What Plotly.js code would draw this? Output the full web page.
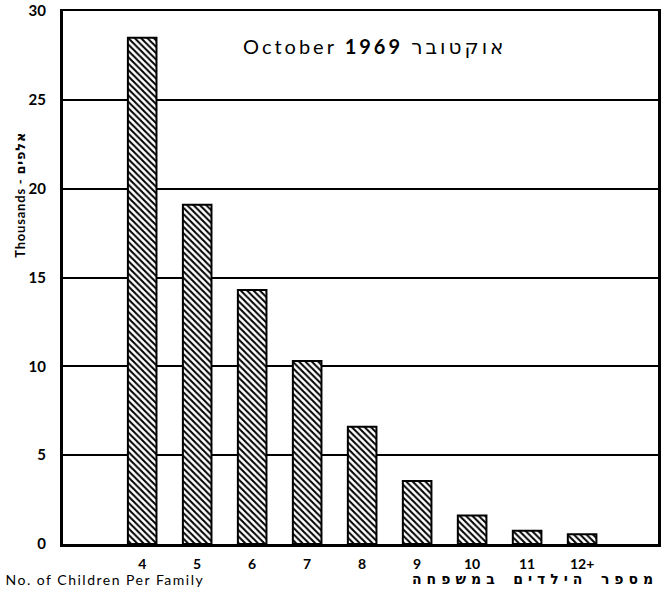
<!DOCTYPE html>
<html>
<head>
<meta charset="utf-8">
<script src="https://cdn.plot.ly/plotly-3.0.1.min.js"></script>
<style>
  html, body { margin: 0; padding: 0; background: #fff; }
  #chart { width: 672px; height: 593px; }
  .annotation[data-index="0"] text { letter-spacing: 3px; }
  .annotation[data-index="1"] text { letter-spacing: 0.8px; }
  .annotation[data-index="2"] text { letter-spacing: 1.5px; }
  .annotation[data-index="3"] text { letter-spacing: 5px; }
</style>
</head>
<body>
<div id="chart"></div>
<script>
const categories = ["4", "5", "6", "7", "8", "9", "10", "11", "12+"];
const thousands = [28.5, 19.1, 14.3, 10.3, 6.6, 3.55, 1.6, 0.75, 0.55];
const yTicks = [0, 5, 10, 15, 20, 25, 30];

const trace = {
  type: "bar",
  x: categories,
  y: thousands,
  width: 0.52,
  marker: {
    color: "white",
    line: { color: "black", width: 2 },
    pattern: { shape: "\\", fgcolor: "black", bgcolor: "white", size: 4.5, solidity: 0.45 }
  },
  hoverinfo: "skip"
};

const font = "Lato, 'DejaVu Sans', 'Noto Sans', sans-serif";

const layout = {
  width: 672, height: 593,
  margin: { l: 63, r: 14, t: 11, b: 49 },
  paper_bgcolor: "white", plot_bgcolor: "white",
  showlegend: false,
  font: { family: font, color: "black" },
  xaxis: {
    type: "category",
    range: [-1.44, 9.38],
    showgrid: false,
    showline: true, linecolor: "black", linewidth: 2.5,
    mirror: true,
    ticks: "", ticklabelstandoff: 6,
    tickfont: { size: 14, family: font, weight: "bold" },
    fixedrange: true
  },
  yaxis: {
    range: [0, 30],
    tickvals: yTicks,
    showgrid: true, gridcolor: "black", gridwidth: 2,
    zeroline: false,
    showline: true, linecolor: "black", linewidth: 3,
    mirror: true,
    ticks: "", ticklabelstandoff: 11,
    tickfont: { size: 15, family: font, weight: "bold" },
    fixedrange: true
  },
  annotations: [
    {
      xref: "paper", yref: "paper", x: 0.523, y: 0.935,
      xanchor: "center", yanchor: "middle",
      text: "October <b>1969</b> אוקטובר",
      showarrow: false,
      font: { size: 20, family: font, color: "black" }
    },
    {
      xref: "paper", yref: "paper", x: -0.072, y: 0.655,
      xanchor: "center", yanchor: "middle",
      text: "<b>Thousands - אלפים</b>",
      textangle: -90,
      showarrow: false,
      font: { size: 13, family: font, color: "black" }
    },
    {
      xref: "paper", yref: "paper", x: 0.0706, y: -0.066,
      xanchor: "center", yanchor: "middle",
      text: "No. of Children Per Family",
      showarrow: false,
      font: { size: 14, family: font, color: "black" }
    },
    {
      xref: "paper", yref: "paper", x: 0.793, y: -0.066,
      xanchor: "center", yanchor: "middle",
      text: "<b>מספר הילדים במשפחה</b>",
      showarrow: false,
      font: { size: 14, family: "'DejaVu Sans Mono', 'DejaVu Sans', sans-serif", color: "black" }
    }
  ]
};

Plotly.newPlot("chart", [trace], layout, { staticPlot: true, displayModeBar: false });
</script>
</body>
</html>
